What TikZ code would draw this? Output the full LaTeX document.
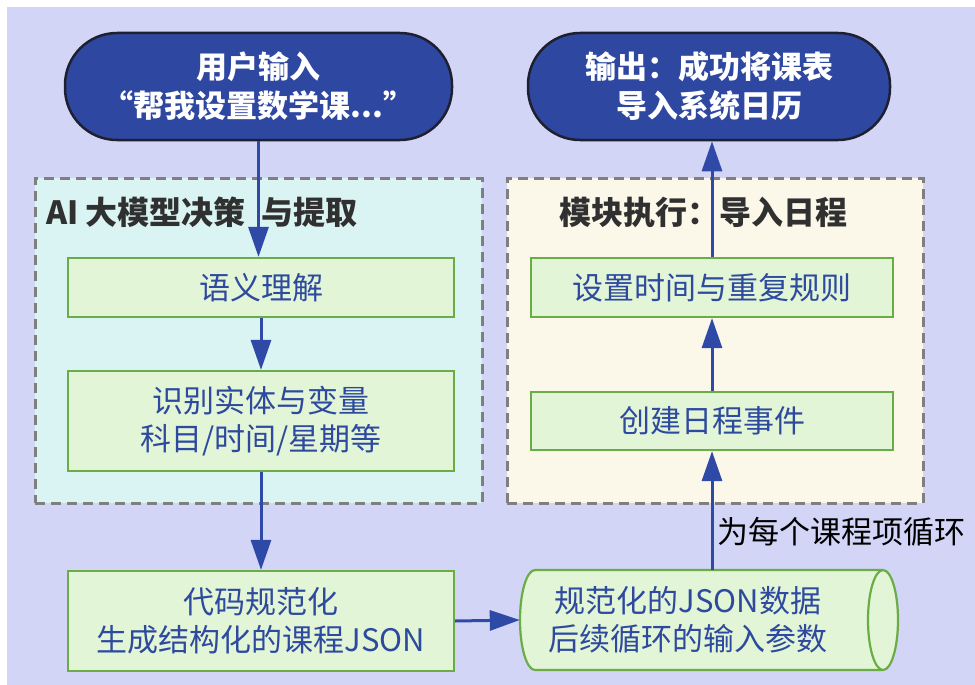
\documentclass[tikz,border=0pt]{standalone}
\usepackage{fontspec}
\setmainfont{Noto Sans CJK SC}
\usetikzlibrary{arrows.meta}
\definecolor{bglav}{HTML}{D3D5F6}
\definecolor{navy}{HTML}{2E47A0}
\definecolor{edgedark}{HTML}{1E2030}
\definecolor{cyanbg}{HTML}{D9F4F2}
\definecolor{creambg}{HTML}{FBF8EA}
\definecolor{dashgray}{HTML}{7F7F7F}
\definecolor{greenfill}{HTML}{E3F5D7}
\definecolor{greenedge}{HTML}{6AAC46}
\definecolor{bluetext}{HTML}{2E4A9E}
\definecolor{arrowblue}{HTML}{2F4AA6}
\definecolor{titlegray}{HTML}{303030}
\tikzset{
  txt/.style={font=\fontsize{31}{38}\selectfont, align=center, inner sep=0pt},
  terminal/.style={txt, draw=edgedark, line width=2.5pt, fill=navy, text=white, font=\fontsize{31}{39}\selectfont\bfseries, rounded corners=52pt},
  group/.style={draw=dashgray, line width=3pt, dash pattern=on 10pt off 6pt},
  stepbox/.style={txt, draw=greenedge, line width=2.2pt, fill=greenfill, text=bluetext},
  grouptitle/.style={txt, text=titlegray, font=\fontsize{32}{38}\selectfont\bfseries},
  flow/.style={draw=arrowblue, line width=3pt, -{Triangle[length=30pt,width=20pt]}},
}
\begin{document}
\begin{tikzpicture}[x=1pt,y=-1pt]
\useasboundingbox (0,0) rectangle (975,685);
\fill[white] (0,0) rectangle (975,685);
\fill[bglav] (7,7) rectangle (975,685);

% groups
\node[group, fill=cyanbg, minimum width=447pt, minimum height=325pt] (ai) at (258.5,340.5) {};
\node[group, fill=creambg, minimum width=416pt, minimum height=325pt] (mod) at (715,340.5) {};
\node[grouptitle, anchor=west] (aititle) at (46,212) {AI 大模型决策\hspace{0.5em}与提取};
\node[grouptitle] (modtitle) at (703,212) {模块执行：导入日程};

% terminals
\node[terminal, minimum width=387pt, minimum height=107pt] (start) at (258.5,86.5) {用户输入\\“帮我设置数学课...”};
\node[terminal, minimum width=362pt, minimum height=107pt] (out) at (709,86.5) {输出：成功将课表\\导入系统日历};

% steps
\node[stepbox, minimum width=386pt, minimum height=59pt] (sem) at (261,287.5) {语义理解};
\node[stepbox, minimum width=386pt, minimum height=100pt] (ent) at (261,421) {识别实体与变量\\科目/时间/星期等};
\node[stepbox, minimum width=386pt, minimum height=100pt] (code) at (261,621) {代码规范化\\生成结构化的课程JSON};
\node[stepbox, minimum width=362pt, minimum height=59pt] (rule) at (712,287.5) {设置时间与重复规则};
\node[stepbox, minimum width=362pt, minimum height=58pt] (create) at (712,421) {创建日程事件};

% cylinder
\fill[greenfill] (535,570) -- (883,570) arc[start angle=-90, end angle=90, x radius=15, y radius=50] -- (535,670) arc[start angle=90, end angle=270, x radius=15, y radius=50] -- cycle;
\draw[greenedge, line width=2.2pt] (535,570) -- (883,570) (883,670) -- (535,670) arc[start angle=90, end angle=270, x radius=15, y radius=50];
\draw[greenedge, line width=2.2pt] (883,620) ellipse[x radius=15, y radius=50];
\node[minimum width=378pt, minimum height=100pt, inner sep=0pt] (json) at (709,620) {};
\node[txt, text=bluetext] (jsontxt) at (688,620) {规范化的JSON数据\\后续循环的输入参数};

% connectors
\draw[flow] (start.south) -- (start.south |- sem.north);
\draw[flow] (sem.south) -- (ent.north);
\draw[flow] (ent.south) -- (ent.south |- code.north);
\draw[flow] (code.east) -- (json.west);
\draw[flow] (json.north -| create.south) -- (create.south);
\draw[flow] (create.north) -- (rule.south);
\draw[flow] (rule.north) -- (rule.north |- out.south);
\node[txt, anchor=west, text=black] (looplbl) at (717,532) {为每个课程项循环};
\end{tikzpicture}
\end{document}
